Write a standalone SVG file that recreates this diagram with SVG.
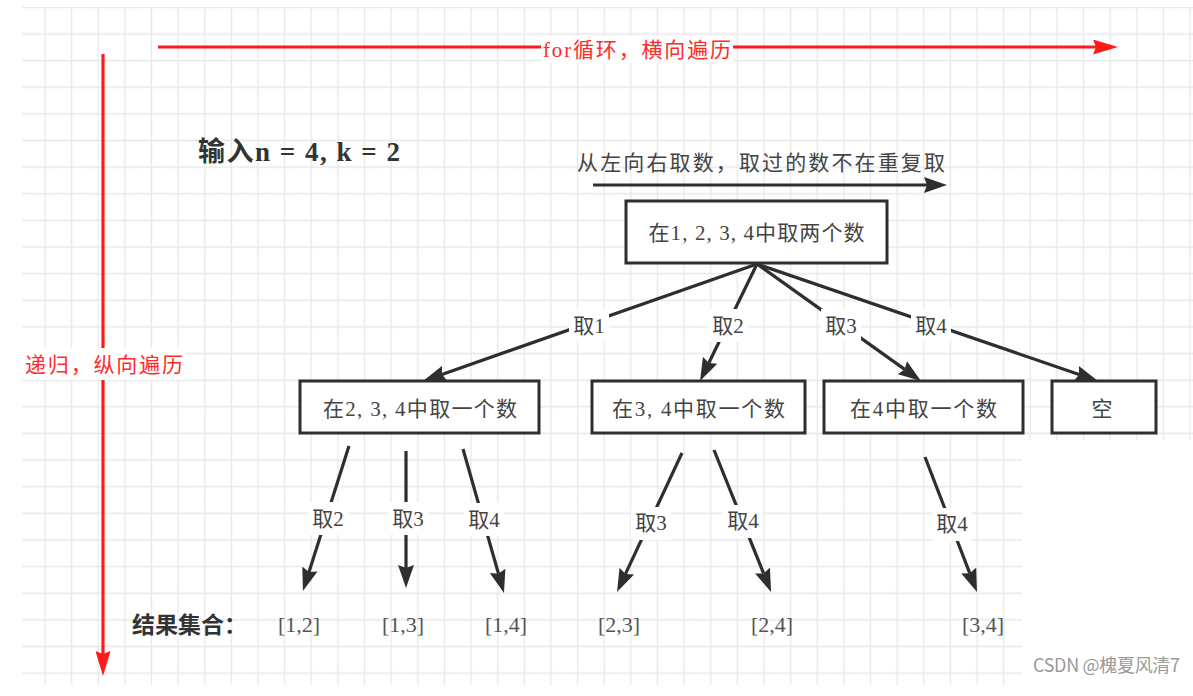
<svg xmlns="http://www.w3.org/2000/svg" width="1193" height="696" viewBox="0 0 1193 696">
<defs>
  <pattern id="grid" patternUnits="userSpaceOnUse" x="5.06" y="-5.95" width="26.63" height="26.63">
    <path d="M13.315,0V26.63M0,13.315H26.63" stroke="#e8e8e8" stroke-width="1.4" fill="none"/>
  </pattern>
  <marker id="arrowDark" markerUnits="userSpaceOnUse" viewBox="0 0 23 16" markerWidth="23" markerHeight="16" refX="3" refY="8" orient="auto">
    <path d="M0,0L23,8L0,16L3,8Z" fill="#2e2e2e"/>
  </marker>
  <marker id="arrowRed" markerUnits="userSpaceOnUse" viewBox="0 0 25 15" markerWidth="25" markerHeight="15" refX="3" refY="7.5" orient="auto">
    <path d="M0,0L25,7.5L0,15L3,7.5Z" fill="#ff1a1a"/>
  </marker>
</defs>
<style>
  .box{fill:#fff;stroke:#2e2e2e;stroke-width:3}
  .ntxt{font-family:"Liberation Serif","Noto Sans CJK SC",serif;font-size:21px;fill:#444;text-anchor:middle}
  .edge{stroke:#2e2e2e;stroke-width:3.2;fill:none;marker-end:url(#arrowDark)}
  .lbg{fill:#fff}
  .ltxt{font-family:"Liberation Serif","Noto Sans CJK SC",serif;font-size:21px;fill:#444;text-anchor:middle}
  .redline{stroke:#ff1a1a;stroke-width:3.2;fill:none;marker-end:url(#arrowRed)}
  .redtxt{font-family:"Liberation Serif","Noto Sans CJK SC",serif;font-size:21px;fill:#ff2b2b}
  .res{font-family:"Liberation Serif","Noto Sans CJK SC",serif;font-size:22px;fill:#555;text-anchor:middle}
  .bold{font-family:"Liberation Serif","Noto Sans CJK SC",serif;font-weight:bold;fill:#333}
</style>
<rect x="0" y="0" width="1193" height="696" fill="#fff"/>
<path d="M22,7H1193V440H1022V685H22Z" fill="url(#grid)"/>

<g id="axes">
  <line class="redline" x1="158" y1="47" x2="1096" y2="47"/>
  <rect class="lbg" x="541" y="36" width="192" height="27"/>
  <text class="redtxt" x="543" y="57" textLength="188" lengthAdjust="spacing">for循环，横向遍历</text>
  <line class="redline" x1="103" y1="54" x2="103" y2="654"/>
  <rect class="lbg" x="23" y="348" width="163" height="32"/>
  <text class="redtxt" x="25" y="372" textLength="158" lengthAdjust="spacing">递归，纵向遍历</text>
</g>

<g id="title">
  <text class="bold" x="198" y="161" font-size="27" textLength="202" lengthAdjust="spacing">输入n = 4, k = 2</text>
</g>

<g id="order-hint">
  <text class="ntxt" x="577" y="170" text-anchor="start" style="text-anchor:start" textLength="368" lengthAdjust="spacing">从左向右取数，取过的数不在重复取</text>
  <line class="edge" x1="593" y1="185" x2="927" y2="185"/>
</g>

<g id="connectors">
  <line class="edge" x1="757" y1="264" x2="441.9" y2="374.4"/>
  <line class="edge" x1="757" y1="264" x2="708.8" y2="363.0"/>
  <line class="edge" x1="757" y1="264" x2="904.7" y2="369.4"/>
  <line class="edge" x1="757" y1="264" x2="1079.1" y2="374.5"/>
  <line class="edge" x1="349" y1="446" x2="309.0" y2="571.9"/>
  <line class="edge" x1="406" y1="451" x2="406" y2="568"/>
  <line class="edge" x1="463" y1="449" x2="498.5" y2="573.8"/>
  <line class="edge" x1="682" y1="453" x2="625.5" y2="573.9"/>
  <line class="edge" x1="714" y1="450" x2="763.6" y2="573.4"/>
  <line class="edge" x1="925" y1="457" x2="969.8" y2="573.3"/>

  <rect class="lbg" x="569" y="309" width="40" height="32"/>
  <text class="ltxt" x="589" y="333">取1</text>
  <rect class="lbg" x="708" y="309" width="40" height="33"/>
  <text class="ltxt" x="728" y="333">取2</text>
  <rect class="lbg" x="821" y="309" width="40" height="32"/>
  <text class="ltxt" x="841" y="333">取3</text>
  <rect class="lbg" x="911" y="309" width="40" height="32"/>
  <text class="ltxt" x="931" y="333">取4</text>

  <rect class="lbg" x="308" y="502" width="40" height="33"/>
  <text class="ltxt" x="328" y="526">取2</text>
  <rect class="lbg" x="388" y="502" width="40" height="33"/>
  <text class="ltxt" x="408" y="526">取3</text>
  <rect class="lbg" x="464" y="503" width="40" height="33"/>
  <text class="ltxt" x="484" y="527">取4</text>
  <rect class="lbg" x="631" y="507" width="40" height="33"/>
  <text class="ltxt" x="651" y="530">取3</text>
  <rect class="lbg" x="723" y="505" width="40" height="33"/>
  <text class="ltxt" x="743" y="528">取4</text>
  <rect class="lbg" x="932" y="508" width="40" height="33"/>
  <text class="ltxt" x="952" y="531">取4</text>
</g>

<g id="node-root">
  <rect class="box" x="626" y="201" width="261" height="62"/>
  <text class="ntxt" x="756.5" y="240" textLength="216" lengthAdjust="spacing">在1, 2, 3, 4中取两个数</text>
</g>
<g id="node-a">
  <rect class="box" x="300" y="381" width="239" height="52"/>
  <text class="ntxt" x="420" y="416" textLength="194" lengthAdjust="spacing">在2, 3, 4中取一个数</text>
</g>
<g id="node-b">
  <rect class="box" x="592" y="381" width="213" height="52"/>
  <text class="ntxt" x="698.5" y="416" textLength="173" lengthAdjust="spacing">在3, 4中取一个数</text>
</g>
<g id="node-c">
  <rect class="box" x="824" y="381" width="199" height="52"/>
  <text class="ntxt" x="923.5" y="416" textLength="147" lengthAdjust="spacing">在4中取一个数</text>
</g>
<g id="node-d">
  <rect class="box" x="1052" y="381" width="104" height="52"/>
  <text class="ntxt" x="1102" y="416">空</text>
</g>

<g id="results">
  <text class="bold" x="132" y="633" font-size="23" textLength="115" lengthAdjust="spacing">结果集合：</text>
  <text class="res" x="299" y="632">[1,2]</text>
  <text class="res" x="403" y="632">[1,3]</text>
  <text class="res" x="506" y="632">[1,4]</text>
  <text class="res" x="619" y="632">[2,3]</text>
  <text class="res" x="772" y="632">[2,4]</text>
  <text class="res" x="983" y="632">[3,4]</text>
</g>

<text x="1033" y="672" font-family="'Noto Sans CJK SC','Liberation Sans',sans-serif" font-size="18" fill="#999" textLength="147" lengthAdjust="spacing">CSDN @槐夏风清7</text>
</svg>
